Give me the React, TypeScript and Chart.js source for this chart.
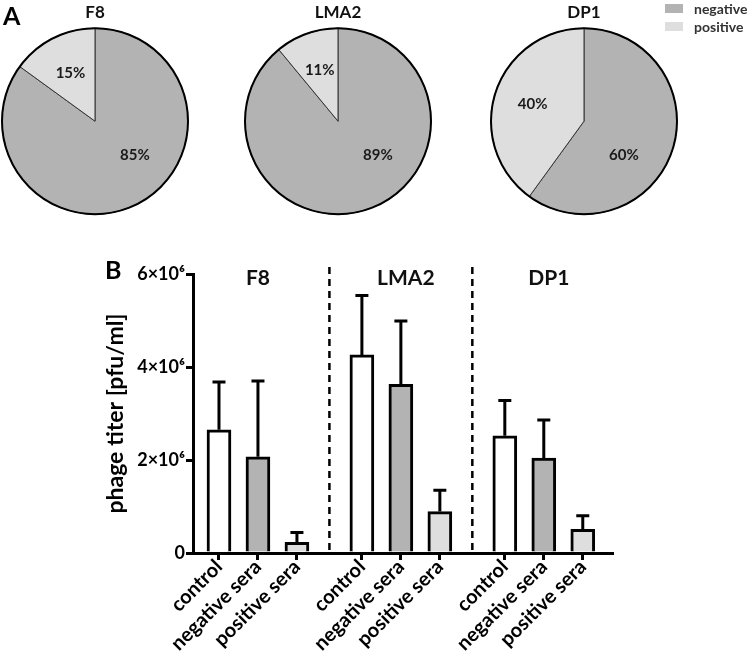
import React, { useEffect, useRef } from "react";
import { Chart, registerables } from "chart.js";

Chart.register(...registerables);

const FONT = "Lato, 'Open Sans', 'DejaVu Sans', sans-serif";

// ---- Panel A: share of sera (%) ----
const strains = ["F8", "LMA2", "DP1"];
const seraClasses = ["negative", "positive"];
const negativeShare = [85, 89, 60];
const positiveShare = [15, 11, 40];

// ---- Panel B: phage titer (pfu/ml) ----
const conditions = ["control", "negative sera", "positive sera"];
const controlTiter = [2.65e6, 4.26e6, 2.52e6];
const negativeTiter = [2.07e6, 3.63e6, 2.04e6];
const positiveTiter = [0.23e6, 0.89e6, 0.51e6];
const controlSD = [1.03e6, 1.28e6, 0.76e6];
const negativeSD = [1.63e6, 1.36e6, 0.82e6];
const positiveSD = [0.21e6, 0.46e6, 0.29e6];
const yTickValues = [0, 2e6, 4e6, 6e6];
const yTickLabels = ["0", "2×10⁶", "4×10⁶", "6×10⁶"];

const NEG_COLOR = "#b3b3b3";
const POS_COLOR = "#dedede";
const CTRL_COLOR = "#ffffff";

function PieChart({ idx, left }: { idx: number; left: number }) {
  const ref = useRef<HTMLCanvasElement>(null);
  useEffect(() => {
    const labelPlugin = {
      id: "pieLabels",
      afterDatasetsDraw(chart: any) {
        const ctx = chart.ctx;
        const meta = chart.getDatasetMeta(0);
        const data = chart.data.datasets[0].data as number[];
        const total = data.reduce((a, b) => a + b, 0);
        const a0: any = meta.data[0];
        ctx.save();
        ctx.beginPath();
        ctx.arc(a0.x, a0.y, a0.outerRadius, 0, Math.PI * 2);
        ctx.lineWidth = 2;
        ctx.strokeStyle = "#000";
        ctx.stroke();
        ctx.font = `bold 15px ${FONT}`;
        ctx.fillStyle = "#1a1a1a";
        ctx.textAlign = "center";
        ctx.textBaseline = "middle";
        meta.data.forEach((el: any, i: number) => {
          const share = data[i] / total;
          let ang: number;
          let dist: number;
          if (share > 0.5) {
            ang = ((130 - 90) * Math.PI) / 180;
            dist = 0.56 * el.outerRadius;
          } else {
            ang = (el.startAngle + el.endAngle) / 2;
            dist = 0.58 * el.outerRadius;
          }
          ctx.fillText(`${data[i]}%`, el.x + Math.cos(ang) * dist, el.y + Math.sin(ang) * dist);
        });
        ctx.restore();
      },
    };
    const chart = new Chart(ref.current as HTMLCanvasElement, {
      type: "pie",
      data: {
        labels: seraClasses,
        datasets: [
          {
            data: [negativeShare[idx], positiveShare[idx]],
            backgroundColor: [NEG_COLOR, POS_COLOR],
            borderColor: "#333",
            borderWidth: 1,
            radius: 93,
          } as any,
        ],
      },
      options: {
        animation: false,
        responsive: false,
        layout: { padding: { bottom: 2 } },
        plugins: {
          legend: { display: false },
          tooltip: { enabled: false },
          title: {
            display: true,
            text: strains[idx],
            color: "#111",
            font: { family: FONT, size: 17, weight: "bold" },
            padding: { top: 2, bottom: 6 },
          },
        },
      } as any,
      plugins: [labelPlugin],
    });
    return () => chart.destroy();
  }, [idx]);
  return (
    <canvas
      ref={ref}
      width={196}
      height={216}
      style={{ position: "absolute", left, top: 0, width: 196, height: 216 }}
    />
  );
}

function BarChart() {
  const ref = useRef<HTMLCanvasElement>(null);
  useEffect(() => {
    const GROUP_STEP = 3 + 2 / 3;
    const xPos = (g: number, i: number) => g * GROUP_STEP + i;
    const positions: number[] = [];
    strains.forEach((_, g) => conditions.forEach((__, i) => positions.push(xPos(g, i))));
    const series = [controlTiter, negativeTiter, positiveTiter];
    const sds = [controlSD, negativeSD, positiveSD];
    const fills = [CTRL_COLOR, NEG_COLOR, POS_COLOR];

    const overlay = {
      id: "overlay",
      afterDatasetsDraw(chart: any) {
        const ctx = chart.ctx;
        const ys = chart.scales.y;
        const xs = chart.scales.x;
        const area = chart.chartArea;
        ctx.save();
        // error bars (upper only)
        ctx.strokeStyle = "#000";
        ctx.lineWidth = 3;
        chart.data.datasets.forEach((ds: any, d: number) => {
          const meta = chart.getDatasetMeta(d);
          meta.data.forEach((bar: any, i: number) => {
            const top = ys.getPixelForValue(ds.data[i].y + sds[d][i]);
            ctx.beginPath();
            ctx.moveTo(bar.x, bar.y);
            ctx.lineTo(bar.x, top);
            ctx.moveTo(bar.x - 6.5, top);
            ctx.lineTo(bar.x + 6.5, top);
            ctx.stroke();
          });
        });
        // dashed separators
        ctx.setLineDash([7, 5]);
        ctx.lineWidth = 2.5;
        for (let g = 0; g < strains.length - 1; g++) {
          const xv = xs.getPixelForValue((xPos(g, 2) + xPos(g + 1, 0)) / 2);
          ctx.beginPath();
          ctx.moveTo(xv, area.top - 7);
          ctx.lineTo(xv, area.bottom);
          ctx.stroke();
        }
        ctx.setLineDash([]);
        // group titles
        ctx.font = `bold 21px ${FONT}`;
        ctx.fillStyle = "#111";
        ctx.textAlign = "center";
        ctx.textBaseline = "middle";
        strains.forEach((s, g) => {
          ctx.fillText(s, xs.getPixelForValue(xPos(g, 1)) + (g === 0 ? 0 : 5), area.top + 4);
        });
        ctx.restore();
      },
    };

    const axisCommon = {
      grid: {
        display: true,
        drawOnChartArea: false,
        drawTicks: true,
        tickLength: 7,
        lineWidth: 3,
        color: "#000",
        offset: false,
      },
      border: { display: true, width: 3, color: "#000" },
    };

    const chart = new Chart(ref.current as HTMLCanvasElement, {
      type: "bar",
      data: {
        datasets: conditions.map((c, k) => ({
          label: c,
          data: series[k].map((y, g) => ({ x: xPos(g, k), y })),
          backgroundColor: fills[k],
          borderColor: "#000",
          borderWidth: 3,
          borderSkipped: "bottom",
          barThickness: 24,
          grouped: false,
        })) as any,
      },
      options: {
        animation: false,
        responsive: false,
        layout: { padding: { left: 100, right: 140, top: 44, bottom: 0 } },
        plugins: { legend: { display: false }, tooltip: { enabled: false } },
        scales: {
          x: {
            type: "linear",
            offset: false,
            min: -2 / 3,
            max: 2 * GROUP_STEP + 2.75,
            afterBuildTicks: (s: any) => {
              s.ticks = positions.map((v) => ({ value: v }));
            },
            afterFit: (s: any) => {
              s.height = 108;
            },
            ...axisCommon,
            ticks: {
              autoSkip: false,
              minRotation: 45,
              maxRotation: 45,
              padding: -5,
              color: "#000",
              font: { family: FONT, size: 20, weight: "bold" },
              callback: (_v: any, i: number) => conditions[i % conditions.length],
            },
          },
          y: {
            min: 0,
            max: 6e6,
            afterBuildTicks: (s: any) => {
              s.ticks = yTickValues.map((v) => ({ value: v }));
            },
            afterFit: (s: any) => {
              s.width = 93;
            },
            ...axisCommon,
            ticks: {
              padding: 1,
              color: "#000",
              font: { family: FONT, size: 18, weight: "bold" },
              callback: (v: any) => yTickLabels[yTickValues.indexOf(Number(v))],
            },
            title: {
              display: true,
              text: "phage titer [pfu/ml]",
              color: "#000",
              font: { family: FONT, size: 23, weight: "bold" },
              padding: { top: 2, bottom: 0 },
            },
          },
        },
      } as any,
      plugins: [overlay],
    });
    return () => chart.destroy();
  }, []);
  return (
    <canvas
      ref={ref}
      width={752}
      height={431}
      style={{ position: "absolute", left: 0, top: 230, width: 752, height: 431 }}
    />
  );
}

export default function App() {
  const letter: React.CSSProperties = {
    position: "absolute",
    fontFamily: FONT,
    fontWeight: 700,
    fontSize: 25,
    lineHeight: "25px",
    color: "#000",
  };
  const legendText: React.CSSProperties = {
    position: "absolute",
    left: 694,
    fontFamily: FONT,
    fontWeight: 700,
    fontSize: 14,
    lineHeight: "18px",
    color: "#333",
  };
  return (
    <div style={{ position: "absolute", left: 0, top: 0, width: 752, height: 661, background: "#fff", overflow: "hidden" }}>
      <PieChart idx={0} left={-3} />
      <PieChart idx={1} left={240} />
      <PieChart idx={2} left={486} />
      <BarChart />
      <div style={{ ...letter, left: 3, top: 3 }}>A</div>
      <div style={{ ...letter, left: 105, top: 257 }}>B</div>
      <div style={{ position: "absolute", left: 665, top: 4, width: 18, height: 9, background: NEG_COLOR }} />
      <div style={{ position: "absolute", left: 665, top: 22, width: 18, height: 9, background: POS_COLOR }} />
      <div style={{ ...legendText, top: 0 }}>{seraClasses[0]}</div>
      <div style={{ ...legendText, top: 18 }}>{seraClasses[1]}</div>
    </div>
  );
}
